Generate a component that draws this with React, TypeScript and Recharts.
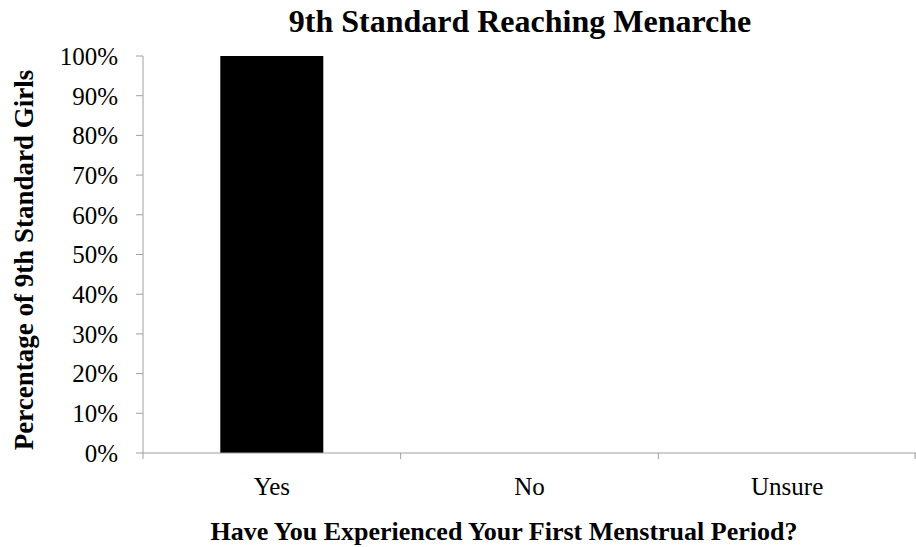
import React from 'react';
import { BarChart, Bar, XAxis, YAxis } from 'recharts';

const categories = ['Yes', 'No', 'Unsure'];
const shares = [1.0, 0, 0];
const yTicks = [0, 0.1, 0.2, 0.3, 0.4, 0.5, 0.6, 0.7, 0.8, 0.9, 1.0];

const W = 916;
const H = 547;
const Y_AXIS_W = 143;
const X_AXIS_H = 94;
const TOP = 56;
const SERIF = "'Liberation Serif', 'Times New Roman', serif";
const AXIS_GRAY = '#a0a0a0';

const data = categories.map((name, i) => ({ name, value: shares[i] }));

// Excel style: tick marks sit between categories, not under them
const band = (W - Y_AXIS_W) / categories.length;

// eslint-disable-next-line @typescript-eslint/no-explicit-any
const XTick = (props: any) => {
    const { x, y, payload, index } = props;
    const last = index === categories.length - 1;
    return (
        <g>
            <line x1={x - band / 2} x2={x - band / 2} y1={y} y2={y + 6} stroke={AXIS_GRAY} strokeWidth={1} />
            {last && <line x1={x + band / 2 - 1} x2={x + band / 2 - 1} y1={y} y2={y + 6} stroke={AXIS_GRAY} strokeWidth={1} />}
            <text x={x} y={y + 42} textAnchor="middle" fontFamily={SERIF} fontSize={25} fill="#000">
                {payload.value}
            </text>
        </g>
    );
};

export default function App() {
    return (
        <div style={{ position: 'absolute', left: 0, top: 0, width: W, height: H, background: '#fff' }}>
            <BarChart width={W} height={H} data={data} margin={{ top: TOP, right: 0, bottom: 0, left: 0 }} barCategoryGap="30%">
                <XAxis
                    dataKey="name"
                    height={X_AXIS_H}
                    tickLine={false}
                    tickSize={0}
                    tickMargin={0}
                    stroke={AXIS_GRAY}
                    tick={<XTick />}
                    interval={0}
                />
                <YAxis
                    width={Y_AXIS_W}
                    domain={[0, 1]}
                    ticks={yTicks}
                    tickFormatter={(v: number) => `${Math.round(v * 100)}%`}
                    tickSize={7}
                    tickMargin={18}
                    stroke={AXIS_GRAY}
                    tick={{ fill: '#000', fontSize: 25, fontFamily: SERIF }}
                    interval={0}
                />
                <Bar dataKey="value" fill="#000" isAnimationActive={false} />
                <text x={520} y={32} textAnchor="middle" fontFamily={SERIF} fontSize={32} fontWeight="bold" fill="#000">
                    9th Standard Reaching Menarche
                </text>
                <text x={504} y={540} textAnchor="middle" fontFamily={SERIF} fontSize={26} fontWeight="bold" fill="#000">
                    Have You Experienced Your First Menstrual Period?
                </text>
                <text
                    x={0}
                    y={0}
                    transform="translate(33, 260) rotate(-90)"
                    textAnchor="middle"
                    fontFamily={SERIF}
                    fontSize={27}
                    fontWeight="bold"
                    fill="#000"
                >
                    Percentage of 9th Standard Girls
                </text>
            </BarChart>
        </div>
    );
}
